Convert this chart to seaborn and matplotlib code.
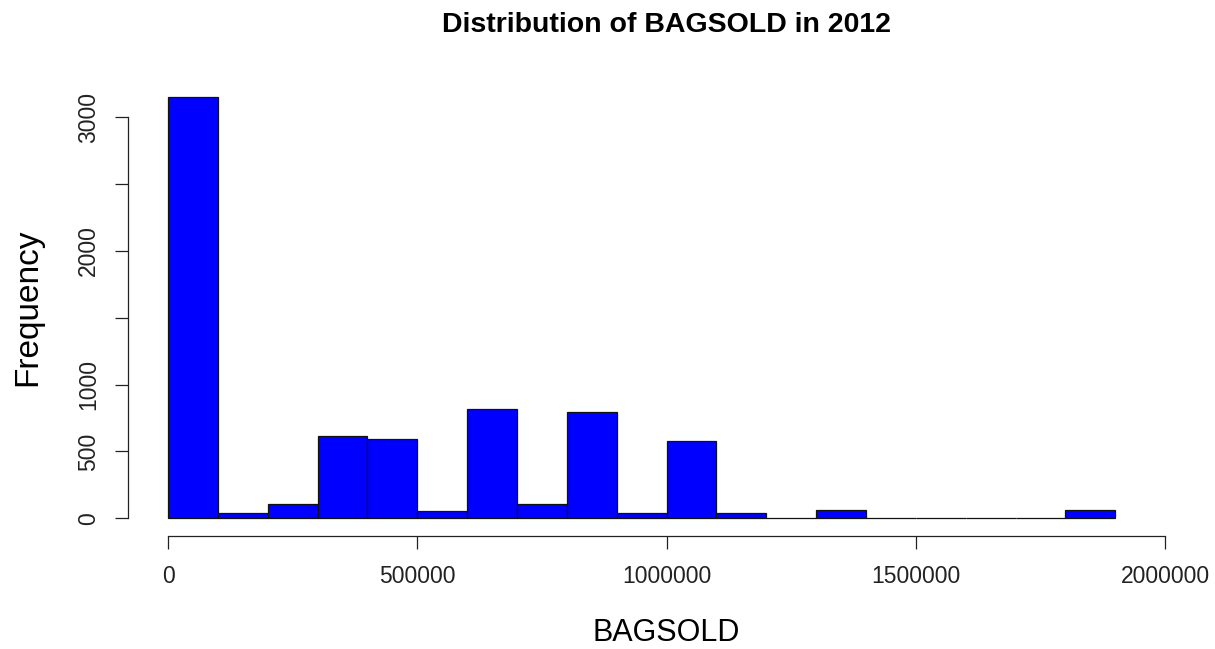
import numpy as np
import pandas as pd
import matplotlib
matplotlib.use("Agg")
import matplotlib.pyplot as plt
import seaborn as sns

# Histogram counts of BAGSOLD for 2012, bins of width 100000
bin_edges = [0, 100000, 200000, 300000, 400000, 500000, 600000, 700000, 800000,
             900000, 1000000, 1100000, 1200000, 1300000, 1400000, 1500000,
             1600000, 1700000, 1800000, 1900000]
bin_counts = [3153, 37, 105, 615, 591, 52, 818, 108, 798, 43,
              576, 40, 0, 60, 0, 0, 0, 0, 60]

x_ticks = [0, 500000, 1000000, 1500000, 2000000]
x_tick_labels = ["0", "500000", "1000000", "1500000", "2000000"]
y_ticks = [0, 500, 1000, 1500, 2000, 2500, 3000]
y_tick_labels = ["0", "500", "1000", "", "2000", "", "3000"]

title_text = "Distribution of BAGSOLD in 2012"
x_label = "BAGSOLD"
y_label = "Frequency"

sns.set_style("white")
plt.rcParams["font.family"] = ["Liberation Sans", "DejaVu Sans"]

mids = [(a + b) / 2 for a, b in zip(bin_edges[:-1], bin_edges[1:])]
df = pd.DataFrame({"BAGSOLD": mids, "count": bin_counts})

fig = plt.figure(figsize=(12.15, 6.49), dpi=100)
ax = fig.add_axes([0.1056, 0.1741, 0.8738, 0.7072])

sns.histplot(data=df, x="BAGSOLD", weights="count", bins=bin_edges,
             color="#0000FF", alpha=1.0, edgecolor="#111111", linewidth=0.9,
             ax=ax)

ax.set_xlim(-79623, 2049739)
ax.set_ylim(-132.4, 3300.7)

for side in ("top", "right"):
    ax.spines[side].set_visible(False)
for side in ("left", "bottom"):
    ax.spines[side].set_color("#222222")
    ax.spines[side].set_linewidth(0.9)
ax.spines["left"].set_bounds(0, 3000)
ax.spines["bottom"].set_bounds(0, 2000000)

ax.set_xticks(x_ticks)
ax.set_xticklabels(x_tick_labels, fontsize=16.5, color="#222222")
ax.set_yticks(y_ticks)
ax.set_yticklabels(y_tick_labels, fontsize=16.5, color="#222222",
                   rotation=90, va="center")
ax.tick_params(axis="x", direction="out", length=9, width=0.9,
               color="#222222", pad=12, bottom=True)
ax.tick_params(axis="y", direction="out", length=9.5, width=0.9,
               color="#222222", pad=11, left=True)

ax.set_xlabel("")
ax.set_ylabel("")

fig.text(666 / 1215, 1 - 32 / 649, title_text, ha="center", va="baseline",
         fontsize=20.5, fontweight="bold", color="black")
fig.text(666 / 1215, 1 - 641 / 649, x_label, ha="center", va="baseline",
         fontsize=22, color="black")
fig.text(28 / 1215, 1 - 307 / 649, y_label, ha="center", va="center",
         rotation=90, fontsize=24, color="black")

fig.savefig("out.png", dpi=100, facecolor="white")
